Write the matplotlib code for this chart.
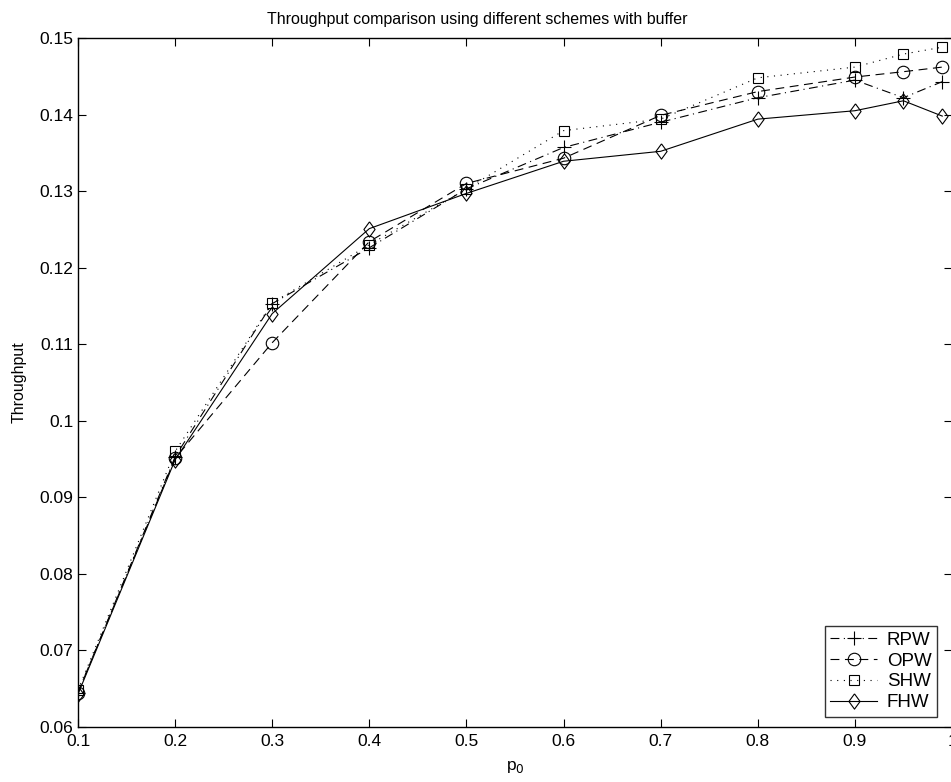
import matplotlib
matplotlib.use('Agg')
from matplotlib import pyplot as plt

plt.rcParams['font.family'] = ['Liberation Sans', 'DejaVu Sans']

# p0 values and throughput per scheme
p0 = [0.1, 0.2, 0.3, 0.4, 0.5, 0.6, 0.7, 0.8, 0.9, 0.95, 0.99]
rpw = [0.0645, 0.0953, 0.1153, 0.1226, 0.1303, 0.1357, 0.1390, 0.1422, 0.1445, 0.1422, 0.1443]
opw = [0.0645, 0.0951, 0.1102, 0.1234, 0.1310, 0.1343, 0.1399, 0.1430, 0.1449, 0.1456, 0.1462]
shw = [0.0648, 0.0960, 0.1154, 0.1230, 0.1303, 0.1379, 0.1394, 0.1448, 0.1462, 0.1479, 0.1488]
fhw = [0.0643, 0.0949, 0.1140, 0.1251, 0.1297, 0.1339, 0.1352, 0.1394, 0.1405, 0.1418, 0.1398]

xticks = [0.1, 0.2, 0.3, 0.4, 0.5, 0.6, 0.7, 0.8, 0.9, 1.0]
xticklabels = ['0.1', '0.2', '0.3', '0.4', '0.5', '0.6', '0.7', '0.8', '0.9', '1']
yticks = [0.06, 0.07, 0.08, 0.09, 0.1, 0.11, 0.12, 0.13, 0.14, 0.15]
yticklabels = ['0.06', '0.07', '0.08', '0.09', '0.1', '0.11', '0.12', '0.13', '0.14', '0.15']

# matlab style diamond, a bit taller than wide
diamond = [(0, 1), (0.73, 0), (0, -1), (-0.73, 0), (0, 1)]

fig = plt.figure(figsize=(9.51, 7.82), dpi=100)
ax = fig.add_axes([78 / 951, 1 - 727 / 782, 874 / 951, 689 / 782])

lw = 0.8
ax.plot(p0, rpw, color='k', lw=lw, linestyle=(0, (8, 4, 1, 4)), marker='+', ms=10,
        mew=0.8, label='RPW')
ax.plot(p0, opw, color='k', lw=lw, linestyle=(0, (8, 5)), marker='o', ms=9,
        mfc='none', mew=0.8, label='OPW')
ax.plot(p0, shw, color='k', lw=lw, linestyle=(0, (1, 5)), marker='s', ms=7.5,
        mfc='none', mew=0.8, label='SHW')
ax.plot(p0, fhw, color='k', lw=lw, linestyle='-', marker=diamond, ms=11,
        mfc='none', mew=0.8, label='FHW')

ax.set_xlim(0.1, 1.0)
ax.set_ylim(0.06, 0.15)
ax.set_xticks(xticks)
ax.set_xticklabels(xticklabels)
ax.set_yticks(yticks)
ax.set_yticklabels(yticklabels)
ax.tick_params(direction='in', length=6, width=0.8, top=True, right=True,
               labelsize=12.5)
ax.tick_params(axis='x', pad=5)
for s in ax.spines.values():
    s.set_linewidth(1.0)

ax.set_title('Throughput comparison using different schemes with buffer',
             fontsize=11.5, pad=10, x=(477 - 78) / 874)
ax.set_ylabel('Throughput', fontsize=11.5, labelpad=9)
ax.set_xlabel(r'p$_0$', fontsize=12.5, labelpad=7)

leg = ax.legend(loc='lower right', bbox_to_anchor=((937 - 78) / 874, (727 - 717) / 689),
                fontsize=13.5, frameon=True, fancybox=False, edgecolor='k',
                handlelength=2.5, handletextpad=0.5, borderpad=0.3, labelspacing=0.2,
                borderaxespad=0.0)
leg.get_frame().set_linewidth(1.0)

fig.savefig('out.png', dpi=100)
